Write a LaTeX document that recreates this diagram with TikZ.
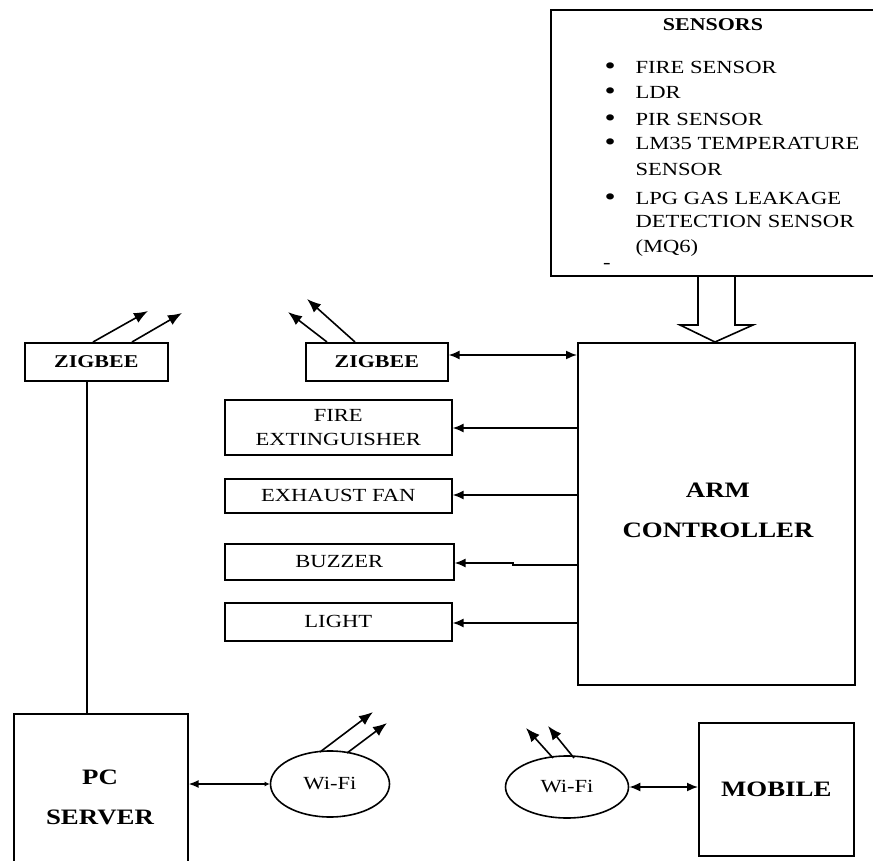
\documentclass[tikz,border=0pt]{standalone}
\usepackage{fontspec}
\setmainfont{Liberation Serif}[FakeStretch=1.22]
\usetikzlibrary{arrows.meta,shapes.geometric}
\newcommand{\bigbul}{\makebox[31pt][l]{\fontsize{26}{22}\selectfont\raisebox{-1pt}{\textbullet}}}
\tikzset{
  box/.style={draw, line width=1.6pt, inner sep=0pt},
  reg/.style={font=\fontsize{18.5}{22}\selectfont},
  smallbold/.style={font=\fontsize{18}{22}\selectfont\bfseries},
  bigbold/.style={font=\fontsize{22}{26}\selectfont\bfseries},
  link/.style={line width=1.6pt},
  tip/.style={-{Latex[length=11pt,width=9pt]}},
  dtip/.style={{Latex[length=11pt,width=9pt]}-{Latex[length=11pt,width=9pt]}},
  ant/.style={line width=1.6pt,-{Latex[length=14pt,width=11pt]}},
  wifi/.style={draw, ellipse, line width=1.6pt, inner sep=0pt}
}
\begin{document}
\begin{tikzpicture}[x=1pt,y=-1pt]
\useasboundingbox (0,0) rectangle (873,861);
\clip (0,0) rectangle (873,861);
% sensors box
\node[box, minimum width=330pt, minimum height=266pt, anchor=north west] (sensors) at (550,9) {};
\node[smallbold] (stitle) at (713,25) {SENSORS};
\node[reg, anchor=base west] (s1) at (601,74) {\bigbul FIRE SENSOR};
\node[reg, anchor=base west] (s2) at (601,99) {\bigbul LDR};
\node[reg, anchor=base west] (s3) at (601,126) {\bigbul PIR SENSOR};
\node[reg, anchor=base west] (s4) at (601,150) {\bigbul LM35 TEMPERATURE};
\node[reg, anchor=base west] (s5) at (632,176) {SENSOR};
\node[reg, anchor=base west] (s6) at (601,205) {\bigbul LPG GAS LEAKAGE};
\node[reg, anchor=base west] (s7) at (632,228) {DETECTION SENSOR};
\node[reg, anchor=base west] (s8) at (632,253) {(MQ6)};
\node[reg, anchor=center] (s9) at (607,266) {-};
% block arrow
\draw[line width=1.6pt] (698,275) -- (698,325) -- (680,325) -- (715,342) -- (753,325) -- (735,325) -- (735,275);
% ARM controller
\node[box, minimum width=277pt, minimum height=342pt, anchor=north west] (arm) at (577,342) {};
\node[bigbold, align=center] (armtext) at (718,510) {ARM\\[14pt]CONTROLLER};
% zigbees
\node[box, smallbold, minimum width=143pt, minimum height=38pt, anchor=north west] (zl) at (24,342) {ZIGBEE};
\node[box, smallbold, minimum width=142pt, minimum height=38pt, anchor=north west] (zr) at (305,342) {ZIGBEE};
% outputs
\node[box, reg, align=center, minimum width=227pt, minimum height=55pt, anchor=north west] (fire) at (224,399) {FIRE\\[2pt]EXTINGUISHER};
\node[box, reg, minimum width=227pt, minimum height=34pt, anchor=north west] (fan) at (224,478) {EXHAUST FAN};
\node[box, reg, minimum width=229pt, minimum height=36pt, anchor=north west] (buzz) at (224,543) {BUZZER};
\node[box, reg, minimum width=227pt, minimum height=38pt, anchor=north west] (light) at (224,602) {LIGHT};
% PC server
\node[box, minimum width=174pt, minimum height=170pt, anchor=north west] (pc) at (13,713) {};
\node[bigbold, align=center] (pctext) at (100,797) {PC\\[14pt]SERVER};
% wifi
\node[wifi, reg, minimum width=119pt, minimum height=66pt] (wl) at (330,784) {Wi-Fi};
\node[wifi, reg, minimum width=123pt, minimum height=62pt] (wr) at (567,787) {Wi-Fi};
% mobile
\node[box, bigbold, minimum width=155pt, minimum height=133pt, anchor=north west] (mob) at (698,722) {MOBILE};
% connectors
\draw[link, dtip] (zr.east |- 0,355) -- (arm.west |- 0,355);
\draw[link, tip] (arm.west |- 0,428) -- (fire.east |- 0,428);
\draw[link, tip] (arm.west |- 0,495) -- (fan.east |- 0,495);
\draw[link, tip] (arm.west |- 0,565) -- (513,565) -- (513,563) -- (buzz.east |- 0,563);
\draw[link, tip] (arm.west |- 0,623) -- (light.east |- 0,623);
\draw[link] (zl.south -| 87,0) -- (pc.north -| 87,0);
\draw[link, {Latex[length=10pt,width=8pt]}-{Latex[length=5pt,width=5pt]}] (pc.east |- wl) -- (wl.west);
\draw[link, dtip] (wr.east) -- (mob.west |- wr);
% antennas
\coordinate (a1) at (148,311); \coordinate (a2) at (182,313);
\draw[ant] (zl.north -| 93,0) -- (a1);
\draw[ant] (zl.north -| 132,0) -- (a2);
\coordinate (a3) at (288,312); \coordinate (a4) at (307,299);
\draw[ant] (zr.north -| 327,0) -- (a3);
\draw[ant] (zr.north -| 355,0) -- (a4);
\coordinate (a5) at (373,712); \coordinate (a6) at (387,723);
\draw[ant] (320,752) -- (a5);
\draw[ant] (347,753) -- (a6);
\coordinate (a7) at (526,728); \coordinate (a8) at (548,726);
\draw[ant] (553,758) -- (a7);
\draw[ant] (574,758) -- (a8);
\end{tikzpicture}
\end{document}
